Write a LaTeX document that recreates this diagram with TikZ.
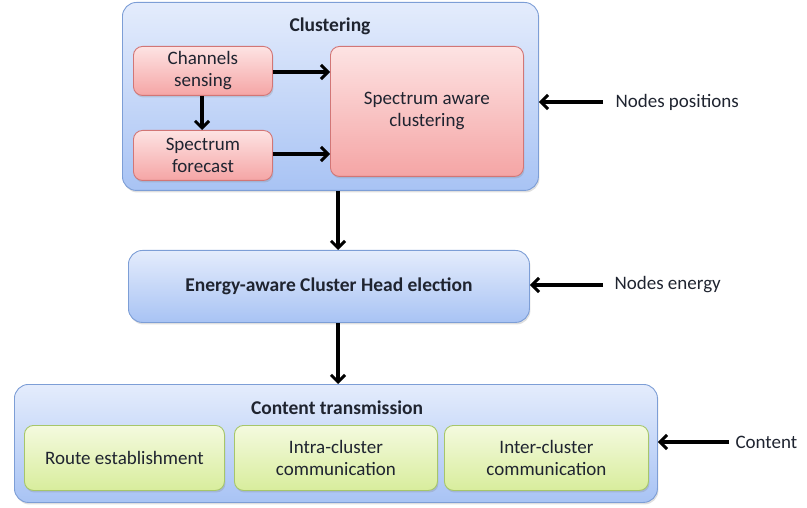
\documentclass[tikz,border=0pt]{standalone}
\usepackage{fontspec}
\setmainfont{Carlito}
\usetikzlibrary{arrows.meta,shadows}
\definecolor{bluetop}{HTML}{E4ECFC}
\definecolor{bluebot}{HTML}{A8C3F4}
\definecolor{blueedge}{HTML}{7D9ED6}
\definecolor{pinktop}{HTML}{FDE3E3}
\definecolor{pinkbot}{HTML}{F5A5A5}
\definecolor{pinkedge}{HTML}{D27676}
\definecolor{greentop}{HTML}{F4FADF}
\definecolor{greenbot}{HTML}{D8ED9C}
\definecolor{greenedge}{HTML}{A6C66A}
\definecolor{txt}{HTML}{1F2430}
\tikzset{
  box/.style={rounded corners=9pt, line width=0.9pt,
    drop shadow={shadow xshift=1pt, shadow yshift=-2pt, opacity=0.25}},
  bluebox/.style={box, draw=blueedge, top color=bluetop, bottom color=bluebot, rounded corners=14pt},
  pinkbox/.style={box, draw=pinkedge, top color=pinktop, bottom color=pinkbot},
  greenbox/.style={box, draw=greenedge, top color=greentop, bottom color=greenbot},
  lbl/.style={font=\fontsize{19}{22}\selectfont, text=txt, align=center},
  ttl/.style={font=\fontsize{19.5}{22}\selectfont\bfseries, text=txt, align=center},
  arr/.style={line width=3.4pt, -{Straight Barb[length=7pt,width=14pt,line width=3pt]}}
}
\begin{document}
\begin{tikzpicture}[x=1pt,y=-1pt]
\useasboundingbox (0,0) rectangle (807,508);
% clustering stage
\node[bluebox, minimum width=416pt, minimum height=188pt, anchor=north west] (clu) at (122,2) {};
\node[ttl] (clut) at (330,26) {Clustering};
\node[pinkbox, minimum width=139pt, minimum height=49pt, anchor=north west] (sense) at (133,46) {};
\node[lbl] at (sense.center) {Channels\\sensing};
\node[pinkbox, minimum width=139pt, minimum height=50pt, anchor=north west] (fore) at (133,130) {};
\node[lbl] at (fore.center) {Spectrum\\forecast};
\node[pinkbox, minimum width=193pt, minimum height=130pt, anchor=north west] (sac) at (330,46) {};
\node[lbl] at (sac.center) {Spectrum aware\\clustering};
% cluster head election
\node[bluebox, minimum width=401pt, minimum height=72pt, anchor=north west] (che) at (128,250) {};
\node[ttl] at (che.center) {Energy-aware Cluster Head election};
% content transmission stage
\node[bluebox, minimum width=643pt, minimum height=118pt, anchor=north west] (ct) at (14,384) {};
\node[ttl] (ctt) at (337,408) {Content transmission};
\node[greenbox, minimum width=200pt, minimum height=65pt, anchor=north west] (route) at (24,425) {};
\node[lbl] at (route.center) {Route establishment};
\node[greenbox, minimum width=203pt, minimum height=65pt, anchor=north west] (intra) at (234,425) {};
\node[lbl] at (intra.center) {Intra-cluster\\communication};
\node[greenbox, minimum width=204pt, minimum height=65pt, anchor=north west] (inter) at (444,425) {};
\node[lbl] at (inter.center) {Inter-cluster\\communication};
% inputs
\node[lbl, anchor=west] (pos) at (612,102) {Nodes positions};
\node[lbl, anchor=west] (ene) at (611,285) {Nodes energy};
\node[lbl, anchor=west] (con) at (732,442) {Content};
% connectors
\draw[arr] (sense.east |- 0,72) -- (sac.west |- 0,72);
\draw[arr] (fore.east |- 0,154) -- (sac.west |- 0,154);
\draw[arr] (sense.south -| 202,0) -- (fore.north -| 202,0);
\draw[arr] (clu.south -| 338,0) -- (che.north -| 338,0);
\draw[arr] (che.south -| 338,0) -- (ct.north -| 338,0);
\draw[arr] (pos.west) ++(-9,0) -- (clu.east |- pos.west);
\draw[arr] (ene.west) ++(-8,0) -- (che.east |- ene.west);
\draw[arr] (con.west) ++(-3,0) -- (ct.east |- con.west);
\end{tikzpicture}
\end{document}
